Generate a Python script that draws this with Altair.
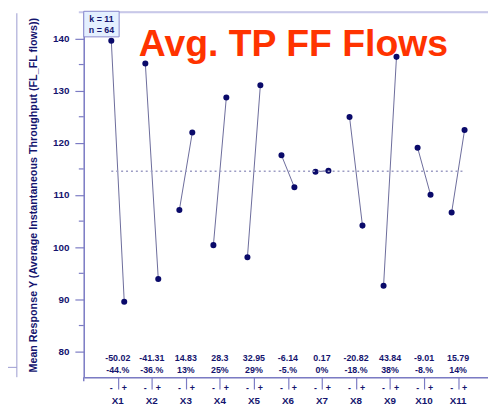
import altair as alt
import pandas as pd

# ---- data ----
factors = ["X1", "X2", "X3", "X4", "X5", "X6", "X7", "X8", "X9", "X10", "X11"]
low_means = [139.56, 135.21, 107.14, 100.40, 98.08, 117.62, 114.47, 124.96, 92.63, 119.06, 106.66]
high_means = [89.54, 93.90, 121.97, 128.70, 131.03, 111.48, 114.64, 104.14, 136.47, 110.05, 122.45]
effect_labels = ["-50.02", "-41.31", "14.83", "28.3", "32.95", "-6.14", "0.17", "-20.82", "43.84", "-9.01", "15.79"]
pct_labels = ["-44.%", "-36.%", "13%", "25%", "29%", "-5.%", "0%", "-18.%", "38%", "-8.%", "14%"]
grand_mean = 114.55
major_ticks = [80, 90, 100, 110, 120, 130, 140]
minor_ticks = [85, 95, 105, 115, 125, 135]
title_text = "Avg. TP FF Flows"
y_title = "Mean Response Y (Average Instantaneous Throughput (FL_FL flows))"
info_k = "k = 11"
info_n = "n = 64"

# ---- styling ----
W, H = 411, 372
OFF = 0.19
NAVY = "#14146e"
AXIS = "#7b7bc4"
FONT = "Liberation Sans"

rows = []
for i, f in enumerate(factors):
    rows.append({"factor": f, "level": "-", "pos": i + 1 - OFF, "value": low_means[i]})
    rows.append({"factor": f, "level": "+", "pos": i + 1 + OFF, "value": high_means[i]})
pts = pd.DataFrame(rows)

grp = pd.DataFrame({
    "factor": factors,
    "center": [i + 1 for i in range(len(factors))],
    "effect": effect_labels,
    "pct": pct_labels,
})

xscale = alt.Scale(domain=[0, W / 34.6], nice=False, zero=False)
yscale = alt.Scale(domain=[75.1, 145.2], nice=False, zero=False)

x_axis = alt.Axis(orient="bottom", values=list(range(1, len(factors) + 1)), labels=False,
                  tickSize=12, tickColor=AXIS, domainColor=AXIS, domainWidth=1.5,
                  tickWidth=1.2, grid=False, title=None)
y_axis = alt.Axis(orient="left", values=major_ticks, tickSize=9, tickColor=AXIS,
                  domainColor=AXIS, domainWidth=1.5, tickWidth=1.2, grid=False, title=None,
                  labelFont=FONT, labelFontSize=10, labelFontWeight="bold",
                  labelColor=NAVY, labelPadding=6)


def X(field):
    return alt.X(field, scale=xscale, axis=x_axis)


def Y(field):
    return alt.Y(field, scale=yscale, axis=y_axis)


one = alt.Data(values=[{}])

# frame / decorations
top_line = alt.Chart(one).mark_rule(color="#c8c8ea", strokeWidth=2).encode(
    x=alt.value(-5), x2=alt.value(W), y=alt.value(1))
left_panel_v = alt.Chart(one).mark_rule(color="#9a9ad0", strokeWidth=1).encode(
    x=alt.value(-68), y=alt.value(2), y2=alt.value(372))
left_panel_h = alt.Chart(one).mark_rule(color="#9a9ad0", strokeWidth=1).encode(
    x=alt.value(-85), x2=alt.value(-68), y=alt.value(362))
y_ext = alt.Chart(one).mark_rule(color=AXIS, strokeWidth=1.5).encode(
    x=alt.value(0), y=alt.value(372), y2=alt.value(376))

minor = alt.Chart(pd.DataFrame({"v": minor_ticks})).mark_rule(color=AXIS, strokeWidth=1.2).encode(
    y=Y("v:Q"), x=alt.value(-5), x2=alt.value(0))

lines = alt.Chart(pts).mark_line(color="#6a6a9a", strokeWidth=1).encode(
    x=X("pos:Q"), y=Y("value:Q"), detail="factor:N")

mean_df = pd.DataFrame({"x": [1 - OFF], "x2": [len(factors) + OFF], "y": [grand_mean]})
mean_line = alt.Chart(mean_df).mark_rule(color="#9d9dc4", strokeWidth=1.5, strokeDash=[2, 3]).encode(
    x=X("x:Q"), x2="x2:Q", y=Y("y:Q"))

info_box = alt.Chart(one).mark_rect(fill="#e4f0ff", stroke="#8888cc", strokeWidth=1).encode(
    x=alt.value(0), x2=alt.value(36), y=alt.value(0), y2=alt.value(26))
info_k_text = alt.Chart(pd.DataFrame({"t": [info_k]})).mark_text(
    font=FONT, fontSize=9, fontWeight="bold", color=NAVY, align="center", baseline="middle"
).encode(x=alt.value(18), y=alt.value(8), text="t:N")
info_n_text = alt.Chart(pd.DataFrame({"t": [info_n]})).mark_text(
    font=FONT, fontSize=9, fontWeight="bold", color=NAVY, align="center", baseline="middle"
).encode(x=alt.value(18), y=alt.value(19), text="t:N")

dots = alt.Chart(pts).mark_circle(color="#0a0a6a", opacity=1, size=38).encode(
    x=X("pos:Q"), y=Y("value:Q"))

eff_text = alt.Chart(grp).mark_text(font=FONT, fontSize=9, fontWeight="bold", color=NAVY,
                                     baseline="middle").encode(
    x=X("center:Q"), y=alt.value(353), text="effect:N")
pct_text = alt.Chart(grp).mark_text(font=FONT, fontSize=9, fontWeight="bold", color=NAVY,
                                     baseline="middle").encode(
    x=X("center:Q"), y=alt.value(365), text="pct:N")
lvl_text = alt.Chart(pts).mark_text(font=FONT, fontSize=9, fontWeight="bold", color=NAVY,
                                     baseline="middle").encode(
    x=X("pos:Q"), y=alt.value(383), text="level:N")
x_text = alt.Chart(grp).mark_text(font=FONT, fontSize=10, fontWeight="bold", color=NAVY,
                                   baseline="middle").encode(
    x=X("center:Q"), y=alt.value(396), text="factor:N")

ytitle = alt.Chart(pd.DataFrame({"t": [y_title]})).mark_text(
    font=FONT, fontSize=10.9, fontWeight="bold", color=NAVY, angle=270,
    align="center", baseline="middle").encode(x=alt.value(-51), y=alt.value(187), text="t:N")

title = alt.Chart(pd.DataFrame({"t": [title_text]})).mark_text(
    font=FONT, fontSize=38, fontWeight="bold", color="#ff3300", align="left",
    baseline="alphabetic").encode(x=alt.value(56), y=alt.value(45), text="t:N")

chart = alt.layer(
    lines, dots, top_line, left_panel_v, left_panel_h, y_ext, minor, mean_line, info_box,
    info_k_text, info_n_text, eff_text, pct_text, lvl_text, x_text, ytitle, title
).properties(
    width=W, height=H,
    autosize=alt.AutoSizeParams(type="none"),
    padding={"left": 77, "top": 0, "right": 0, "bottom": 30},
).configure_view(stroke=None).configure(background="white")

chart.save("out.html", embed_options={"renderer": "svg", "actions": False})
